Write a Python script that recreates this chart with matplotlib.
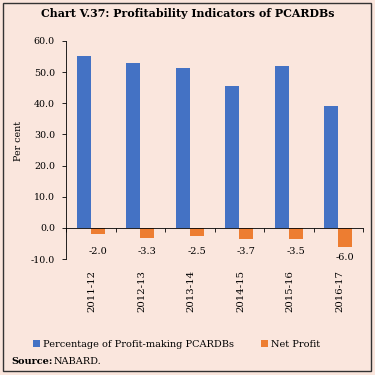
import numpy as np
import matplotlib.pyplot as plt
from matplotlib.patches import Rectangle

years = ["2011-12", "2012-13", "2013-14", "2014-15", "2015-16", "2016-17"]
profit_making = [55.1, 52.9, 51.3, 45.5, 51.9, 39.1]
net_profit = [-2.0, -3.3, -2.5, -3.7, -3.5, -6.0]

bg = "#fae6dd"
blue = "#4472c4"
orange = "#ed7d31"

plt.rcParams["font.family"] = ["DejaVu Serif"]

fig = plt.figure(figsize=(3.75, 3.75), dpi=100, facecolor=bg)
ax = fig.add_axes([0.176, 0.309, 0.792, 0.582])
ax.set_facecolor(bg)

x = np.arange(len(years))
w = 0.28
ax.bar(x - w / 2, profit_making, w, color=blue, label="Percentage of Profit-making PCARDBs")
ax.bar(x + w / 2, net_profit, w, color=orange, label="Net Profit")

# value labels under the orange bars
for xi, v in zip(x, net_profit):
    ypos = min(v - 3.5, -7.5)
    ax.text(xi + w / 2, ypos, f"{v:.1f}", ha="center", va="center", fontsize=7)

ax.set_xlim(-0.5, len(years) - 0.5)
ax.set_ylim(-10, 60)
ax.set_yticks(np.arange(-10, 61, 10))
ax.set_yticklabels([f"{t:.1f}" for t in np.arange(-10, 61, 10)], fontsize=6.8)
ax.set_ylabel("Per cent", fontsize=6.8)
ax.yaxis.set_label_coords(-0.145, 0.54)

ax.spines["top"].set_visible(False)
ax.spines["right"].set_visible(False)
ax.spines["bottom"].set_position(("data", 0))
ax.spines["left"].set_linewidth(0.6)
ax.spines["bottom"].set_linewidth(0.6)
ax.tick_params(axis="y", length=3, width=0.6, pad=5)

ax.set_xticks(np.arange(-0.5, len(years), 1))
ax.tick_params(axis="x", length=3, width=0.6, labelbottom=False, direction="out")
for xi, yr in zip(x, years):
    ax.text(xi + 0.03, -13.5, yr, rotation=90, ha="center", va="top", fontsize=7.3)

fig.legend(loc="center", bbox_to_anchor=(0.47, 0.082), ncol=2, frameon=False,
           fontsize=7, handlelength=0.7, handleheight=0.7, handletextpad=0.3,
           columnspacing=2.8)

fig.text(0.5, 0.965, "Chart V.37: Profitability Indicators of PCARDBs",
         ha="center", va="center", fontsize=7.9, fontweight="bold")
fig.text(0.03, 0.035, "Source:", fontsize=7, fontweight="bold", va="center")
fig.text(0.143, 0.035, "NABARD.", fontsize=7, va="center")

fig.add_artist(Rectangle((0.008, 0.012), 0.982, 0.98, transform=fig.transFigure,
                         fill=False, edgecolor="#333333", linewidth=1.0))

fig.savefig("out.png", dpi=100, facecolor=bg)
